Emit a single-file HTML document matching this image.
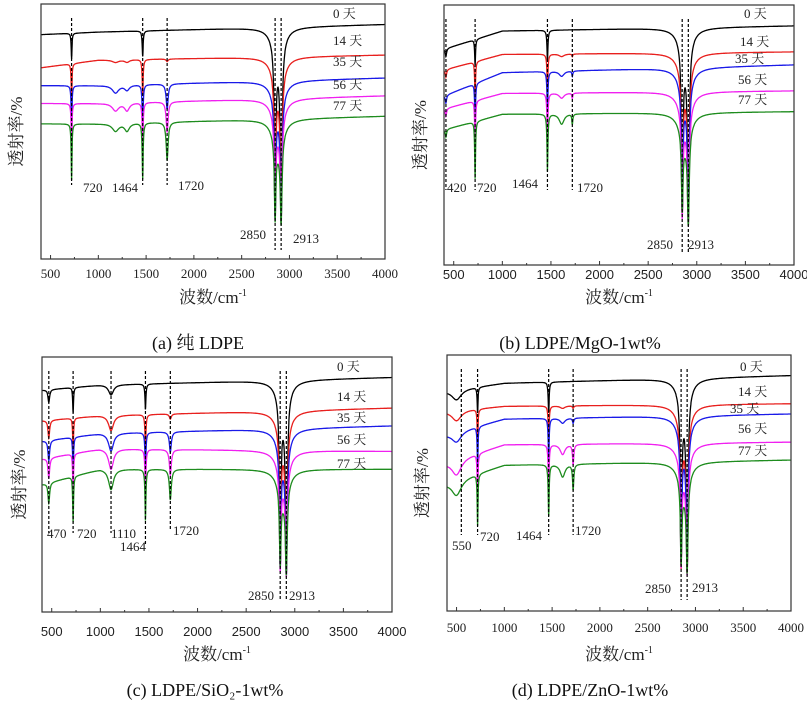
<!DOCTYPE html>
<html><head><meta charset="utf-8"><style>
html,body{margin:0;padding:0;background:#fff;}
svg{display:block;font-family:"Liberation Serif","Noto Serif CJK SC",serif;}
</style></head><body>
<svg id="fig" width="807" height="709" viewBox="0 0 807 709"></svg>
<script>
const seriesLabels=["0 天","14 天","35 天","56 天","77 天"];
const seriesColors=["#000000","#e8201e","#1a1ae8","#f020f0","#1e8c1e"];
const xTicks=[500,1000,1500,2000,2500,3000,3500,4000];
// baselines (transmittance, 0..100 of frame) at 400, 1000, 4000 cm-1
const aBase=[[88,89,92],[75,78,80],[68,68,71],[61,61,64],[53,53,56]];
const bBase=[[83,90,92],[75,81,82],[65,74,77],[60,66,67],[52,58,59]];
const cBase=[[87,89,92],[75,77,80],[67,70,73],[60,64,63],[50,56,56]];
const dBase=[[86,89,92],[78,80,81],[69,75,77],[58,65,66],[50,57,59]];
// peaks: position, half-width, depth per series
const aPeakPos=[720,1464,1720,1180,1300,2880,2850,2913];
const aPeakWidth=[5,6,12,40,30,60,9,11];
const aPeakDepth=[[10,10,0,0,0,12,62,64],[14,14,1,1,1,12,50,52],[18,18,10,3,2,12,43,45],[18,18,12,3,3,12,37,39],[22,22,15,3,3,12,30,32]];
const bPeakPos=[420,720,1464,1610,1720,2880,2850,2913];
const bPeakWidth=[8,5,6,30,6,60,9,11];
const bPeakDepth=[[3,10,12,0,0,12,60,62],[3,14,14,1,1,12,52,55],[3,16,16,2,2,12,45,48],[3,18,18,2,2,12,38,42],[3,22,22,4,4,12,28,34]];
const cPeakPos=[470,720,1110,1464,1720,2880,2850,2913];
const cPeakWidth=[10,5,30,6,12,60,9,11];
const cPeakDepth=[[5,10,4,10,0,12,62,65],[7,13,6,14,2,12,50,54],[8,15,7,16,8,12,44,48],[8,16,8,18,10,12,37,40],[8,18,8,20,12,12,28,32]];
const dPeakPos=[500,720,1464,1610,1720,2880,2850,2913];
const dPeakWidth=[60,5,6,30,8,60,9,11];
const dPeakDepth=[[4,10,12,0,0,12,62,65],[4,14,14,1,1,12,53,56],[4,16,16,2,2,12,47,50],[6,18,18,4,8,12,38,42],[6,20,20,5,10,12,30,34]];
const aMarks=[720,1464,1720,2850,2913];
const bMarks=[420,720,1464,1720,2850,2913];
const cMarks=[470,720,1110,1464,1720,2850,2913];
const dMarks=[550,720,1464,1720,2850,2913];

const NS="http://www.w3.org/2000/svg";
const svg=document.getElementById("fig");
function mk(tag,attrs,parent,text){const e=document.createElementNS(NS,tag);for(const k in attrs)e.setAttribute(k,attrs[k]);if(text!==undefined)e.textContent=text;(parent||svg).appendChild(e);return e;}

const panels=[
 {id:"a",x0:41,x1:385,y0:4,y1:259,base:aBase,pp:aPeakPos,pw:aPeakWidth,pd:aPeakDepth,marks:aMarks,
  markLab:[[83,192],[112,192],[178,190],[240,239],[293,243]],markEnd:[185,185,185,250,250],
  leg:[[333,18],[333,45],[333,66],[333,89],[333,110]],tickY:278,tickFont:"Liberation Serif",titleY:303,ytx:18,cap:"(a)  纯 LDPE",capX:198,capY:349},
 {id:"b",x0:444,x1:794,y0:5,y1:265,base:bBase,pp:bPeakPos,pw:bPeakWidth,pd:bPeakDepth,marks:bMarks,
  markLab:[[447,192],[477,192],[512,188],[577,192],[647,249],[688,249]],markEnd:[190,190,190,190,253,253],
  leg:[[744,18],[740,46],[735,63],[738,84],[738,104]],tickY:279,tickFont:"Liberation Sans",titleY:303,ytx:422,cap:"(b) LDPE/MgO-1wt%",capX:580,capY:349},
 {id:"c",x0:42,x1:392,y0:357,y1:612,base:cBase,pp:cPeakPos,pw:cPeakWidth,pd:cPeakDepth,marks:cMarks,
  markLab:[[47,538],[77,538],[111,538],[120,551],[173,535],[248,600],[289,600]],markEnd:[533,533,533,545,530,600,600],
  leg:[[337,371],[337,401],[337,422],[337,444],[337,468]],tickY:636,tickFont:"Liberation Sans",titleY:660,ytx:21,cap:"(c) LDPE/SiO\u2082-1wt%",capX:205,capY:696},
 {id:"d",x0:447,x1:791,y0:355,y1:611,base:dBase,pp:dPeakPos,pw:dPeakWidth,pd:dPeakDepth,marks:dMarks,
  markLab:[[452,550],[480,541],[516,540],[575,535],[645,593],[692,592]],markEnd:[535,535,535,535,600,600],
  leg:[[740,371],[738,396],[730,413],[738,433],[738,455]],tickY:632,tickFont:"Liberation Serif",titleY:660,ytx:424,cap:"(d) LDPE/ZnO-1wt%",capX:590,capY:696}
];

panels.forEach(p=>{
  const g=mk("g",{});
  
  
  const sx=v=>p.x0+(v-400)/3600*(p.x1-p.x0);
  const sy=v=>p.y1-v/100*(p.y1-p.y0);
  const cp=mk("clipPath",{id:"clip"+p.id},g);
  mk("rect",{x:p.x0,y:p.y0,width:p.x1-p.x0,height:p.y1-p.y0},cp);
  p.base.forEach((b,si)=>{
    let d="";
    for(let w=400;w<=4000;w+=2){
      let v=w<=1000? b[0]+(b[1]-b[0])*(w-400)/600 : b[1]+(b[2]-b[1])*(w-1000)/3000;
      for(let k=0;k<p.pp.length;k++){const hw=p.pw[k];const dx=w-p.pp[k];v-=p.pd[si][k]*hw*hw/(dx*dx+hw*hw);}
      d+=(w===400?"M":"L")+sx(w).toFixed(1)+","+sy(v).toFixed(1);
    }
    const path=mk("path",{d:d,fill:"none",stroke:seriesColors[si],"stroke-width":1.3,"clip-path":"url(#clip"+p.id+")"},g);
    
    
    const t=mk("text",{x:p.leg[si][0],y:p.leg[si][1],"font-size":13,fill:"#222"},g,seriesLabels[si]);
    
    
  });
  p.marks.forEach((m,i)=>{
    const ln=mk("line",{x1:sx(m),x2:sx(m),y1:p.y0+14,y2:p.markEnd[i],stroke:"#000","stroke-width":1.2,"stroke-dasharray":"3,2"},g);
    
    
    const t=mk("text",{x:p.markLab[i][0],y:p.markLab[i][1],"font-size":13,fill:"#222"},g,String(m));
    
    
  });
  const fr=mk("rect",{x:p.x0,y:p.y0,width:p.x1-p.x0,height:p.y1-p.y0,fill:"none",stroke:"#333","stroke-width":1.2},g);
  
  
  for(let v=500;v<=4000;v+=250){
    mk("line",{x1:sx(v),x2:sx(v),y1:p.y1,y2:p.y1-(v%500===0?4:2),stroke:"#333","stroke-width":1},g);
  }
  xTicks.forEach(v=>{
    const t=mk("text",{x:sx(v),y:p.tickY,"font-size":13,"text-anchor":"middle",fill:"#222","font-family":p.tickFont},g,String(v));
    
    
  });
  const xt=mk("text",{x:(p.x0+p.x1)/2,y:p.titleY,"font-size":17,"text-anchor":"middle",fill:"#222"},g);
  
  
  xt.appendChild(document.createTextNode("波数/cm"));
  mk("tspan",{"font-size":10,dy:-7},xt,"-1");
  const cy=(p.y0+p.y1)/2;
  const yt=mk("text",{x:p.ytx,y:cy,"font-size":17,"text-anchor":"middle",fill:"#222",transform:"rotate(-90 "+p.ytx+" "+cy+")","dominant-baseline":"middle"},g,"透射率/%");
  
  
  const c=mk("text",{x:p.capX,y:p.capY,"font-size":18,"text-anchor":"middle",fill:"#111"},g,p.cap);
  
  
});
</script>
</body></html>
